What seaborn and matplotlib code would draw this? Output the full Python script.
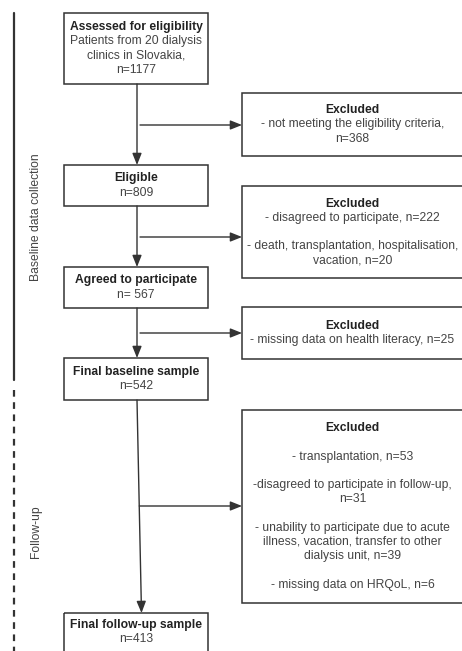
import matplotlib
matplotlib.use("Agg")
import matplotlib.pyplot as plt
import seaborn as sns

# Flow diagram counts
assessed_n = 1177
eligible_n = 809
agreed_n = 567
baseline_n = 542
followup_n = 413
excl_criteria_n = 368
excl_disagreed_n = 222
excl_death_n = 20
excl_missing_hl_n = 25
excl_transpl_n = 53
excl_fu_disagreed_n = 31
excl_unable_n = 39
excl_hrqol_n = 6

sns.set_theme(style="white")
plt.rcParams["font.family"] = ["Liberation Sans", "DejaVu Sans"]

LINE = "#333333"
TXT = "#444444"
STEP = 14.2
FS = 8.7

fig = plt.figure(figsize=(4.62, 6.51), dpi=100)
ax = fig.add_axes([0, 0, 1, 1])
ax.set_xlim(0, 462)
ax.set_ylim(651, 0)
ax.axis("off")


def box(x0, y0, x1, y1, lines):
    ax.add_patch(plt.Rectangle((x0, y0), x1 - x0, y1 - y0, fill=False,
                               edgecolor=LINE, lw=1.1))
    cx = (x0 + x1) / 2
    cy = (y0 + y1) / 2
    n = len(lines)
    for i, s in enumerate(lines):
        y = cy + (i - (n - 1) / 2) * STEP
        ax.text(cx, y, s, ha="center", va="center", fontsize=FS,
                fontweight="bold" if i == 0 else "normal",
                color="#222222" if i == 0 else TXT)


def arrow(x0, y0, x1, y1):
    ax.annotate("", xy=(x1, y1), xytext=(x0, y0),
                arrowprops=dict(arrowstyle="-|>,head_length=0.7,head_width=0.28",
                                color=LINE, lw=1.0, shrinkA=0, shrinkB=0,
                                mutation_scale=10))


# left-hand boxes
box(64, 13, 208, 84, ["Assessed for eligibility",
                      "Patients from 20 dialysis",
                      "clinics in Slovakia,",
                      f"n={assessed_n}"])
box(64, 165, 208, 206, ["Eligible", f"n={eligible_n}"])
box(64, 267, 208, 308, ["Agreed to participate", f"n= {agreed_n}"])
box(64, 358, 208, 400, ["Final baseline sample", f"n={baseline_n}"])
box(64, 613, 208, 680, ["Final follow-up sample", f"n={followup_n}", "", ""])

# right-hand exclusion boxes
box(242, 93, 463, 156, ["Excluded",
                        "- not meeting the eligibility criteria,",
                        f"n={excl_criteria_n}"])
box(242, 186, 463, 278, ["Excluded",
                         f"- disagreed to participate, n={excl_disagreed_n}",
                         "",
                         "- death, transplantation, hospitalisation,",
                         f"vacation, n={excl_death_n}"])
box(242, 307, 463, 359, ["Excluded",
                         f"- missing data on health literacy, n={excl_missing_hl_n}"])
box(242, 410, 463, 603, ["Excluded",
                         "",
                         f"- transplantation, n={excl_transpl_n}",
                         "",
                         "-disagreed to participate in follow-up,",
                         f"n={excl_fu_disagreed_n}",
                         "",
                         "- unability to participate due to acute",
                         "illness, vacation, transfer to other",
                         f"dialysis unit, n={excl_unable_n}",
                         "",
                         f"- missing data on HRQoL, n={excl_hrqol_n}"])

# main vertical arrows
arrow(137, 84, 137, 165)
arrow(137, 206, 137, 267)
arrow(137, 308, 137, 358)
arrow(137, 400, 141.5, 613)

# branch arrows
arrow(140, 125, 242, 125)
arrow(140, 237, 242, 237)
arrow(140, 333, 242, 333)
arrow(139.3, 506, 242, 506)

# phase markers
ax.plot([14, 14], [13, 380], color=LINE, lw=1.6)
ax.plot([14, 14], [390, 651], color=LINE, lw=1.6, linestyle=(0, (3, 2.5)))
ax.text(36, 217, "Baseline data collection", rotation=90, ha="center",
        va="center", fontsize=FS, color=TXT)
ax.text(36, 532, "Follow-up", rotation=90, ha="center", va="center",
        fontsize=FS, color=TXT)

fig.savefig("out.png", dpi=100)
